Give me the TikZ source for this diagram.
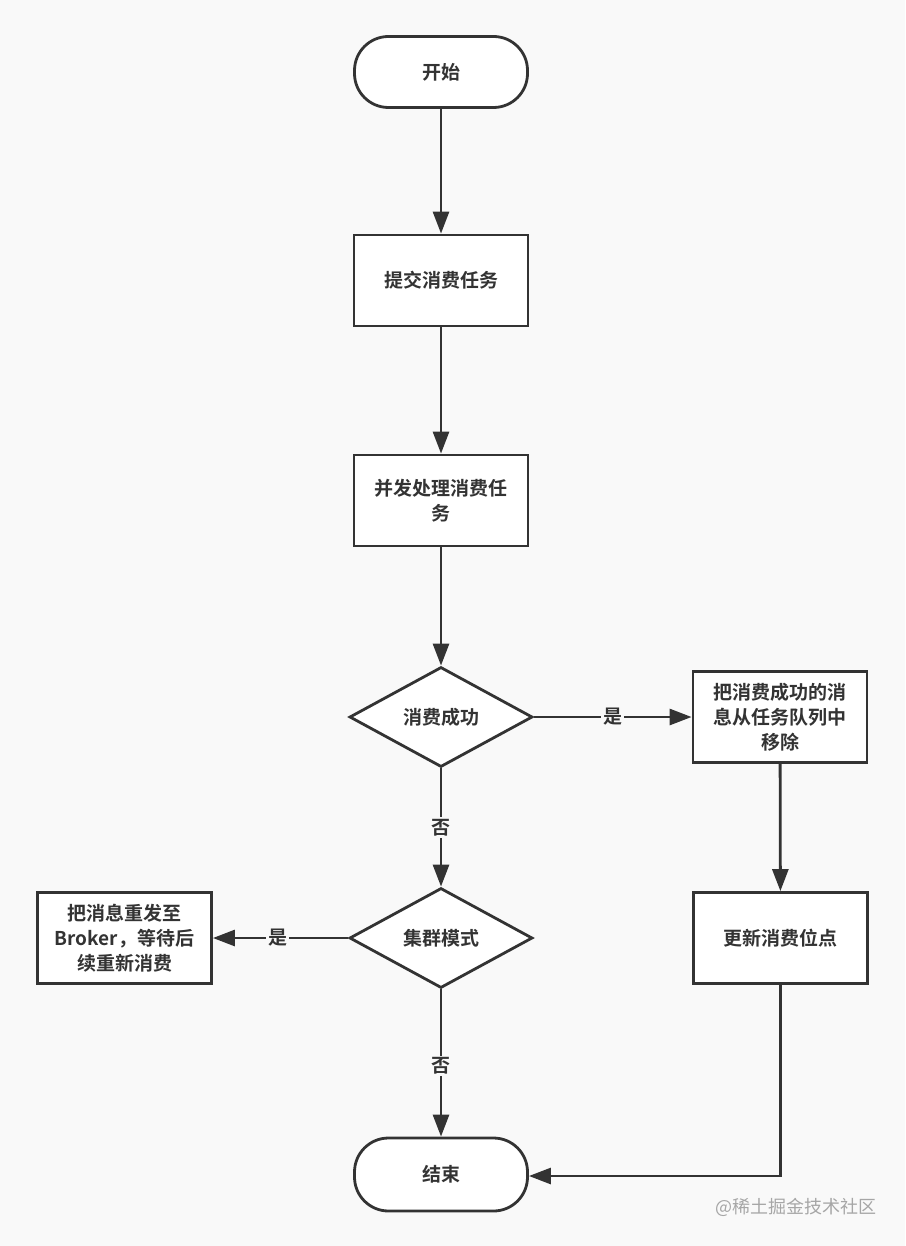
\documentclass[tikz,border=0pt]{standalone}
\usepackage{fontspec}
\setmainfont{Noto Sans CJK SC}[BoldFont={Noto Sans CJK SC Bold}]
\usetikzlibrary{arrows.meta,shapes.geometric}
\definecolor{bgc}{HTML}{F9F9F9}
\definecolor{ink}{HTML}{333333}
\tikzset{
  base/.style={draw=ink, line width=2.8pt, fill=white, text=ink, font=\fontsize{19}{25}\selectfont\bfseries, align=center, inner sep=0pt},
  term/.style={base, rectangle, rounded corners=34pt, minimum width=173pt},
  procbox/.style={base, rectangle, minimum width=174pt, minimum height=91pt},
  decision/.style={base, diamond, minimum width=183pt, minimum height=100pt, aspect=1.83},
  conn/.style={draw=ink, line width=2.8pt, -{Triangle[length=22pt,width=16pt]}},
  lbl/.style={fill=bgc, text=ink, font=\fontsize{19}{22}\selectfont\bfseries, inner sep=2pt}
}
\begin{document}
\begin{tikzpicture}[x=1pt,y=-1pt]
\fill[bgc] (0,0) rectangle (905,1246);
\useasboundingbox (0,0) rectangle (905,1246);
\node[term, minimum height=71pt] (start) at (441,72) {开始};
\node[procbox] (submit) at (441,280.5) {提交消费任务};
\node[procbox] (proc) at (441,500.5) {并发处理消费任\\务};
\node[decision] (ok) at (441,717) {消费成功};
\node[procbox] (remove) at (780,717) {把消费成功的消\\息从任务队列中\\移除};
\node[decision] (cluster) at (441,938) {集群模式};
\node[procbox] (resend) at (124.5,938) {把消息重发至\\Broker，等待后\\续重新消费};
\node[procbox] (update) at (780.5,938) {更新消费位点};
\node[term, minimum height=73pt] (end) at (441,1174.5) {结束};
\coordinate (corner) at (780.5,1176);

\draw[conn] (start) -- (submit);
\draw[conn] (submit) -- (proc);
\draw[conn] (proc) -- (ok);
\draw[conn] (ok) -- node[lbl, pos=0.5] {是} (remove);
\draw[conn] (ok) -- node[lbl, pos=0.5] {否} (cluster);
\draw[conn] (cluster) -- node[lbl, pos=0.52] {是} (resend);
\draw[conn] (cluster) -- node[lbl, pos=0.52] {否} (end);
\draw[conn] (remove) -- (update);
\draw[conn] (update.south) -- (corner) -- (end.east |- corner);

\node[text=black!35, font=\fontsize{18}{20}\selectfont, anchor=east, inner sep=0pt] (wm) at (877,1207) {@稀土掘金技术社区};
\end{tikzpicture}
\end{document}
